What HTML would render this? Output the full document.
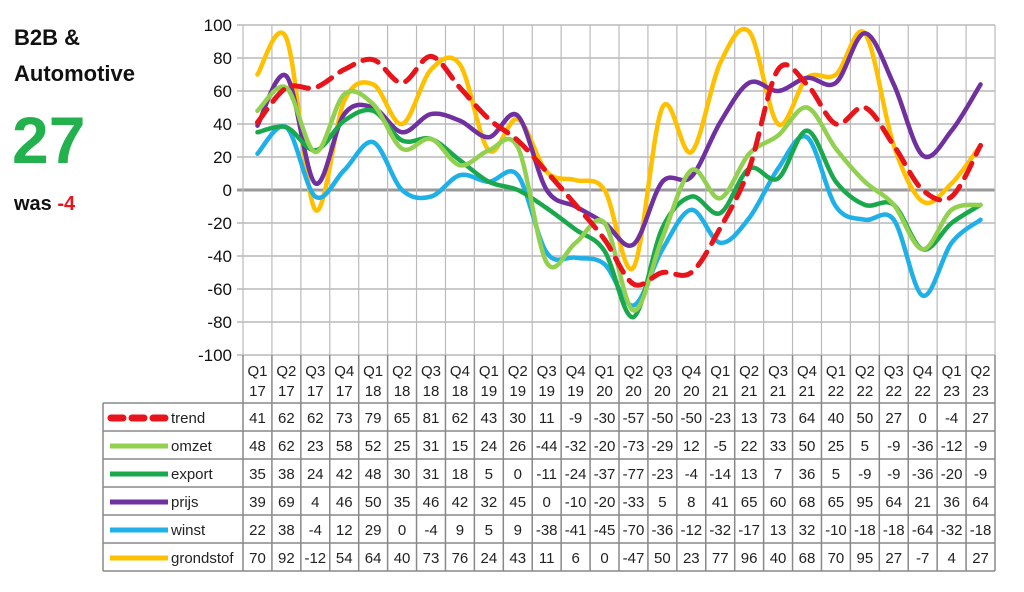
<!DOCTYPE html>
<html><head><meta charset="utf-8"><style>
body{margin:0;background:#fff;width:1024px;height:587px;overflow:hidden;font-family:"Liberation Sans",sans-serif}
</style></head><body>
<svg id="s" width="1024" height="587" xmlns="http://www.w3.org/2000/svg" font-family="Liberation Sans, sans-serif">
<text x="14" y="45" font-size="22" font-weight="bold" fill="#111">B2B &amp;</text>
<text x="14" y="81" font-size="22" font-weight="bold" fill="#111">Automotive</text>
<text x="12" y="163" font-size="66" font-weight="bold" fill="#22b14c">27</text>
<text x="14" y="210" font-size="20" font-weight="bold" fill="#111">was <tspan fill="#e8141b">-4</tspan></text>
</svg>
<script>
const s=document.getElementById('s');const NS='http://www.w3.org/2000/svg';
function el(t,a,txt){const e=document.createElementNS(NS,t);for(const k in a)e.setAttribute(k,a[k]);if(txt!==undefined)e.textContent=txt;s.appendChild(e);return e;}
const L=243,R=995,T=25,B=355,n=26,cw=(R-L)/n;
const y=v=>T+(100-v)/200*(B-T);
const q=['Q1','Q2','Q3','Q4'];let labs=[];for(let i=0;i<n;i++){const qi=i%4;const yr=17+Math.floor(i/4);labs.push([q[qi],yr]);}
const data=[
['trend','#e8141b',[41,62,62,73,79,65,81,62,43,30,11,-9,-30,-57,-50,-50,-23,13,73,64,40,50,27,0,-4,27],true],
['omzet','#92d050',[48,62,23,58,52,25,31,15,24,26,-44,-32,-20,-73,-29,12,-5,22,33,50,25,5,-9,-36,-12,-9]],
['export','#1aa84c',[35,38,24,42,48,30,31,18,5,0,-11,-24,-37,-77,-23,-4,-14,13,7,36,5,-9,-9,-36,-20,-9]],
['prijs','#7030a0',[39,69,4,46,50,35,46,42,32,45,0,-10,-20,-33,5,8,41,65,60,68,65,95,64,21,36,64]],
['winst','#1fb0e8',[22,38,-4,12,29,0,-4,9,5,9,-38,-41,-45,-70,-36,-12,-32,-17,13,32,-10,-18,-18,-64,-32,-18]],
['grondstof','#ffc000',[70,92,-12,54,64,40,73,76,24,43,11,6,0,-47,50,23,77,96,40,68,70,95,27,-7,4,27]]];
for(let v=-100;v<=100;v+=20){el('line',{x1:L-6,x2:R,y1:y(v),y2:y(v),stroke:v==0?'#999':'#aaa','stroke-width':v==0?3:1.2});
el('text',{x:232,y:y(v)+6,'font-size':17,'text-anchor':'end',fill:'#111'},v);}
for(let i=0;i<=n;i++){const x=L+i*cw;el('line',{x1:x,x2:x,y1:T,y2:B,stroke:'#bbb','stroke-width':1.2});}
const rowT=[355,403,431,459,487,515,543,571];
for(let i=0;i<=n;i++){const x=L+i*cw;el('line',{x1:x,x2:x,y1:355,y2:571,stroke:'#888','stroke-width':1.5});}
el('line',{x1:103,x2:103,y1:403,y2:571,stroke:'#888','stroke-width':1.5});
for(let r=1;r<rowT.length;r++){el('line',{x1:103,x2:R,y1:rowT[r],y2:rowT[r],stroke:'#888','stroke-width':1.5});}
for(let i=0;i<n;i++){const cx=L+(i+.5)*cw;el('text',{x:cx,y:376,'font-size':15,'text-anchor':'middle',fill:'#222'},labs[i][0]);
el('text',{x:cx,y:396,'font-size':15,'text-anchor':'middle',fill:'#222'},labs[i][1]);}
data.forEach((d,r)=>{const yt=rowT[r+1]+20;
el('text',{x:171,y:yt,'font-size':15,fill:'#222'},d[0]);
if(d[3])el('line',{x1:111,x2:167,y1:yt-5,y2:yt-5,stroke:d[1],'stroke-width':7,'stroke-dasharray':'12 9','stroke-linecap':'round'});
else el('line',{x1:110,x2:168,y1:yt-5,y2:yt-5,stroke:d[1],'stroke-width':5});
d[2].forEach((v,i)=>el('text',{x:L+(i+.5)*cw,y:yt,'font-size':15,'text-anchor':'middle',fill:'#222'},v));});
data.slice().reverse().forEach(d=>{const p=d[2].map((v,i)=>[L+(i+.5)*cw,y(v)]);
let str='M'+p[0][0]+','+p[0][1];
for(let i=0;i<p.length-1;i++){const p0=p[i-1]||p[i],p1=p[i],p2=p[i+1],p3=p[i+2]||p2;const t=6;
str+=` C${p1[0]+(p2[0]-p0[0])/t},${p1[1]+(p2[1]-p0[1])/t} ${p2[0]-(p3[0]-p1[0])/t},${p2[1]-(p3[1]-p1[1])/t} ${p2[0]},${p2[1]}`;}
const a={d:str,fill:'none',stroke:d[1],'stroke-width':4.5,'stroke-linecap':'round'};if(d[3]){a['stroke-dasharray']='16 10';a['stroke-width']=5;}
el('path',a);});
const tr=[...s.querySelectorAll('path')];s.appendChild(tr[tr.length-1]);
</script>
</body></html>
